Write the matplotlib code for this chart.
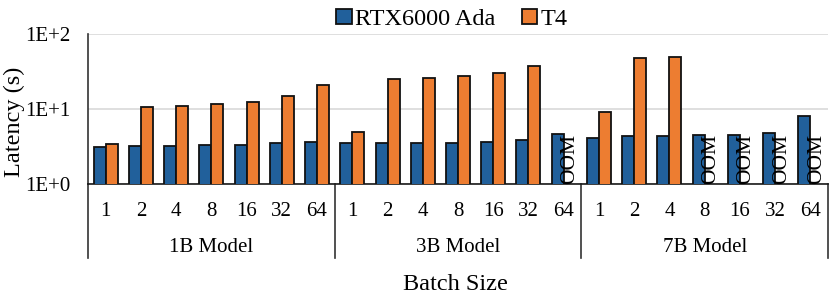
import numpy as np
import matplotlib
matplotlib.use("Agg")
import matplotlib.pyplot as plt
import matplotlib.transforms as mtransforms

plt.rcParams['font.family'] = ['Liberation Serif', 'DejaVu Serif']

groups = ["1B Model", "3B Model", "7B Model"]
batch_sizes = ["1", "2", "4", "8", "16", "32", "64"]
series_names = ["RTX6000 Ada", "T4"]

rtx_1b = [3.10, 3.20, 3.24, 3.28, 3.31, 3.49, 3.67]
rtx_3b = [3.49, 3.56, 3.56, 3.56, 3.67, 3.86, 4.69]
rtx_7b = [4.15, 4.32, 4.32, 4.45, 4.45, 4.83, 7.99]
t4_1b = [3.44, 10.7, 11.0, 11.5, 12.4, 14.9, 20.9]
t4_3b = [4.94, 25.4, 26.1, 27.3, 29.9, 37.0, None]
t4_7b = [9.03, 48.3, 49.3, None, None, None, None]

yticks = [1, 10, 100]
ytick_labels = ["1E+0", "1E+1", "1E+2"]

blue = "#21609B"
orange = "#ED7D31"

rtx = [v for g in (rtx_1b, rtx_3b, rtx_7b) for v in g]
t4 = [np.nan if v is None else v for g in (t4_1b, t4_3b, t4_7b) for v in g]
n = len(rtx)
x = np.arange(n)
w = 0.34

fig = plt.figure(figsize=(8.3, 2.96), dpi=100)
ax = fig.add_axes([88/830, 1-184/296, 740/830, 150/296])

b1 = ax.bar(x - w/2, rtx, w, color=blue, edgecolor="#111111", linewidth=1.3,
            label=series_names[0], zorder=3)
b2 = ax.bar(x + w/2, t4, w, color=orange, edgecolor="#111111", linewidth=1.3,
            label=series_names[1], zorder=3)

ax.set_yscale("log")
ax.set_ylim(1, 100)
ax.set_yticks(yticks)
ax.set_yticklabels(ytick_labels)
ax.yaxis.set_minor_locator(matplotlib.ticker.NullLocator())
ax.set_xlim(-0.5, n - 0.5)
ax.set_xticks(x)
ax.set_xticklabels(batch_sizes * len(groups))
ax.tick_params(axis="both", length=0, labelsize=15)
ax.tick_params(axis="x", pad=13)
ax.tick_params(axis="y", pad=13)
for lbl in ax.get_yticklabels():
    lbl.set_verticalalignment("center_baseline")

ax.grid(axis="y", color="#D9D9D9", linewidth=1.2, zorder=0)
for s in ["top", "right"]:
    ax.spines[s].set_visible(False)
ax.spines["left"].set_color("#333333")
ax.spines["left"].set_linewidth(1.2)
ax.spines["bottom"].set_color("#1a1a1a")
ax.spines["bottom"].set_linewidth(1.2)

# OOM markers
for i, v in enumerate(t4):
    if np.isnan(v):
        ax.text(i + w/2, 1.0, "OOM", rotation=90, ha="center", va="bottom",
                fontsize=15.5, zorder=4)

# group separators and labels
trans = mtransforms.blended_transform_factory(ax.transData, ax.transAxes)
gsize = len(batch_sizes)
for k in range(len(groups) + 1):
    xs = k * gsize - 0.5
    ax.plot([xs, xs], [0, -74/150], transform=trans, color="#333333",
            linewidth=1.2, clip_on=False)
for k, g in enumerate(groups):
    ax.text(k * gsize + (gsize - 1) / 2, -63/150, g, transform=trans,
            ha="center", va="center", fontsize=15)

fig.text(455/830, 1 - 284/296, "Batch Size", ha="center", va="center", fontsize=17.5)
fig.text(14/830, 1 - 122/296, "Latency (s)", ha="center", va="center",
         rotation=90, fontsize=17.5)

fig.legend(handles=[b1, b2], loc="upper center", bbox_to_anchor=(452/830, 1.045),
           ncol=2, frameon=False, fontsize=17.5, handlelength=0.62,
           handleheight=0.62, handletextpad=0.14, columnspacing=1.1)

fig.savefig("out.png", dpi=100)
